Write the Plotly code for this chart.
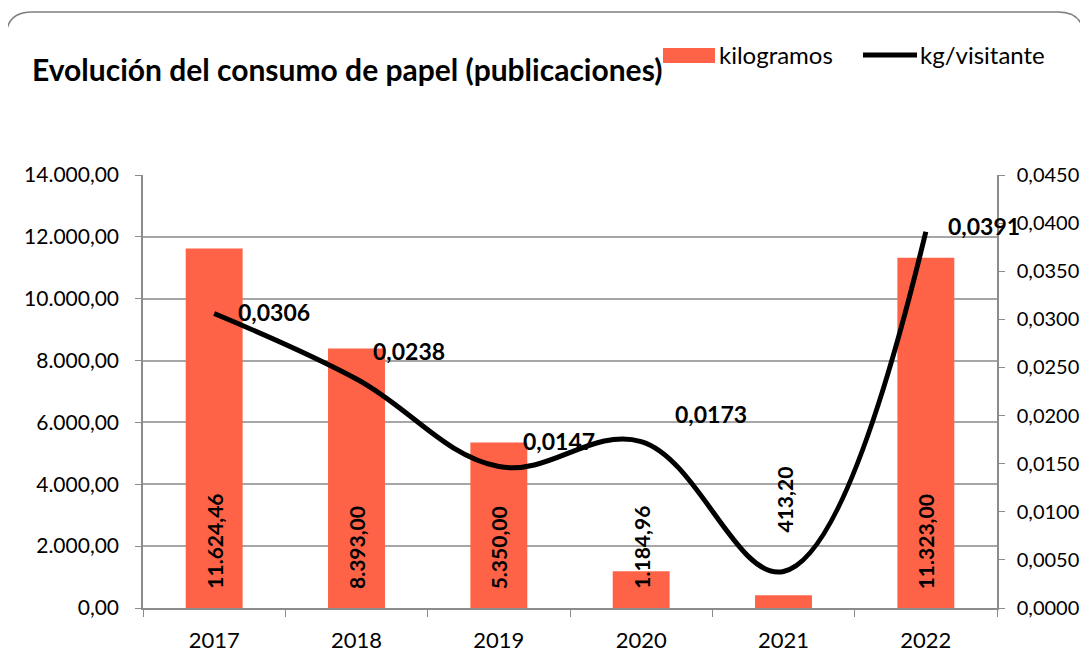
import plotly.graph_objects as go

# data
years = ["2017", "2018", "2019", "2020", "2021", "2022"]
kilogramos = [11624.46, 8393.00, 5350.00, 1184.96, 413.20, 11323.00]
kg_visitante = [0.0306, 0.0238, 0.0147, 0.0173, 0.0038, 0.0391]
bar_labels = ["11.624,46", "8.393,00", "5.350,00", "1.184,96", "413,20", "11.323,00"]
line_labels = ["0,0306", "0,0238", "0,0147", "0,0173", "", "0,0391"]

BAR = "#FF6347"
FONT = "Lato"

# the page body adds an 8px offset; margins chosen so the plot area
# lands on x 143..997, y 175..608 of the screenshot
OFF = 8
W, H = 1088, 669
L, R, T, B = 135, 99, 167, 69
pw, ph = W - L - R, H - T - B


def px(x, y):
    # screenshot pixel -> paper coordinates
    return (x - OFF - L) / pw, (H - B + OFF - y) / ph


fig = go.Figure()

fig.add_trace(go.Bar(
    x=years, y=kilogramos, name="kilogramos",
    marker=dict(color=BAR, line=dict(width=0)),
    width=0.4, yaxis="y",
))

fig.add_trace(go.Scatter(
    x=years, y=kg_visitante, name="kg/visitante", yaxis="y2",
    mode="lines", line=dict(color="black", width=5, shape="spline", smoothing=1.1),
))

# bar value labels, rotated, at the base of each bar
# (category index used for x so "2017" isn't read as the number 2017)
lifts = [17, 17, 17, 17, 73, 17]
for i, (t, s) in enumerate(zip(bar_labels, lifts)):
    fig.add_annotation(x=i, y=0, yref="y", text="<b>%s</b>" % t, textangle=-90,
                       showarrow=False, xanchor="center", yanchor="bottom", yshift=s,
                       font=dict(family=FONT, size=21, color="black"))

# line value labels
offs = [(22, 2), (14, 28), (22, 26), (32, 28), (0, 0), (20, 6)]
for i, (v, t, (dx, dy)) in enumerate(zip(kg_visitante, line_labels, offs)):
    if not t:
        continue
    fig.add_annotation(x=i, y=v, yref="y2", text="<b>%s</b>" % t, showarrow=False,
                       xanchor="left", yanchor="middle", xshift=dx, yshift=dy,
                       font=dict(family=FONT, size=23, color="black"))

# rounded chart frame
x0, y0, x1, y1, r = 6, 12, 1084, 700, 26
pts = {
    "a": px(x0, y0 + r), "b": px(x0, y0), "c": px(x0 + r, y0),
    "d": px(x1 - r, y0), "e": px(x1, y0), "f": px(x1, y0 + r),
    "g": px(x1, y1), "h": px(x0, y1),
}
p = lambda k: "%f,%f" % pts[k]
path = "M %s Q %s %s L %s Q %s %s L %s L %s Z" % (
    p("a"), p("b"), p("c"), p("d"), p("e"), p("f"), p("g"), p("h"))
fig.add_shape(type="path", path=path, xref="paper", yref="paper",
              line=dict(color="#7f7f7f", width=1.5), layer="below")

# legend, drawn by hand like the spreadsheet one
ax0, ay0 = px(663, 48)
ax1, ay1 = px(715, 63)
fig.add_shape(type="rect", xref="paper", yref="paper", x0=ax0, y0=ay1, x1=ax1, y1=ay0,
              fillcolor=BAR, line=dict(width=0))
lx0, ly = px(863, 55)
lx1, _ = px(917, 55)
fig.add_shape(type="line", xref="paper", yref="paper", x0=lx0, y0=ly, x1=lx1, y1=ly,
              line=dict(color="black", width=5))
for xx, name in [(717, "kilogramos"), (918, "kg/visitante")]:
    fig.add_annotation(x=px(xx, 0)[0], y=px(0, 55)[1], xref="paper", yref="paper",
                       text=name, showarrow=False, xanchor="left", yanchor="middle",
                       font=dict(family=FONT, size=24, color="black"))

fig.update_layout(
    width=W, height=H,
    margin=dict(l=L, r=R, t=T, b=B),
    paper_bgcolor="white", plot_bgcolor="white",
    separators=",.",
    font=dict(family=FONT, size=20, color="black"),
    title=dict(text="<b>Evolución del consumo de papel (publicaciones)</b>",
               x=24 / W, xanchor="left", y=1 - 62 / H, yanchor="middle",
               font=dict(family=FONT, size=30, color="black")),
    showlegend=False,
    bargap=0.6,
    xaxis=dict(type="category", range=[-0.5, 5.5], showline=True,
               linecolor="#8c8c8c", linewidth=1.5,
               ticks="outside", ticklen=7, tickcolor="#8c8c8c",
               tickson="boundaries", showgrid=False, ticklabelstandoff=12,
               tickfont=dict(family=FONT, size=22)),
    yaxis=dict(range=[0, 14000], dtick=2000, tickformat=",.2f",
               showline=True, linecolor="#8c8c8c", linewidth=1.5,
               ticks="outside", ticklen=6, tickcolor="#8c8c8c",
               showgrid=True, gridcolor="#a6a6a6", gridwidth=1.5,
               zeroline=False, ticklabelstandoff=12,
               tickfont=dict(family=FONT, size=21)),
    yaxis2=dict(range=[0, 0.045], dtick=0.005, tickformat=".4f",
                overlaying="y", side="right",
                showline=True, linecolor="#8c8c8c", linewidth=1.5,
                ticks="outside", ticklen=6, tickcolor="#8c8c8c",
                showgrid=False, zeroline=False, ticklabelstandoff=8,
                tickfont=dict(family=FONT, size=20)),
)

fig.write_html("out.html")
